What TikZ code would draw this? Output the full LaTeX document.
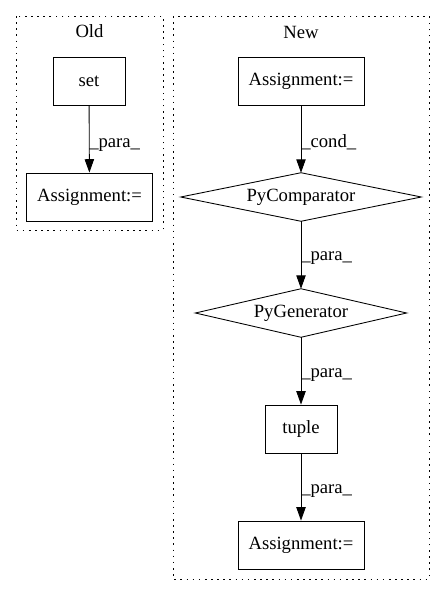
\documentclass[tikz,border=0pt]{standalone}
\usepackage{fontspec}
\setmainfont{Liberation Serif}
\usetikzlibrary{arrows.meta}
\begin{document}
\begin{tikzpicture}[x=0.75pt,y=-0.75pt,
  font=\fontsize{14pt}{16pt}\selectfont,
  box/.style={draw, line width=0.65pt, minimum height=36pt, inner sep=0pt},
  diabox/.style={minimum height=36pt, inner sep=0pt},
  diaedge/.style={line width=0.65pt, line join=miter},
  cluster/.style={draw, line width=0.7pt, dash pattern=on 1.2pt off 3.4pt},
  edge/.style={draw, line width=0.65pt, -{Triangle[length=10pt,width=7pt]}},
  lbl/.style={anchor=base west, inner sep=0pt}]
\useasboundingbox (0,0) rectangle (445,596);
% clusters
\draw[cluster] (16,16) rectangle (163,230);
\node (oldlbl) at (89.5,31) {Old};
\draw[cluster] (173,16) rectangle (429,579);
\node (newlbl) at (301,32) {New};
% Old
\node[box, minimum width=54pt] (set) at (89,81) {set};
\node[box, minimum width=94pt] (oldA) at (89.5,197) {Assignment:=};
\draw[edge] (set) -- (oldA);
\node[lbl] (l1) at (89,147) {\_para\_};
% New
\node[box, minimum width=94.5pt] (newA) at (301,81) {Assignment:=};
\node[diabox, minimum width=180pt] (cmp) at (301,197) {PyComparator};
\draw[diaedge] (cmp.north) -- (cmp.east) -- (cmp.south) -- (cmp.west) -- cycle;
\node[diabox, minimum width=158pt] (gen) at (301,313) {PyGenerator};
\draw[diaedge] (gen.north) -- (gen.east) -- (gen.south) -- (gen.west) -- cycle;
\node[box, minimum width=54pt] (tup) at (301,429) {tuple};
\node[box, minimum width=94.5pt] (endA) at (301,545) {Assignment:=};
\draw[edge] (newA) -- (cmp.north);
\node[lbl] (l2) at (301,147) {\_cond\_};
\draw[edge] (cmp.south) -- (gen.north);
\node[lbl] (l3) at (301,260) {\_para\_};
\draw[edge] (gen.south) -- (tup);
\node[lbl] (l4) at (301,377) {\_para\_};
\draw[edge] (tup) -- (endA);
\node[lbl] (l5) at (301,493) {\_para\_};
\end{tikzpicture}
\end{document}
